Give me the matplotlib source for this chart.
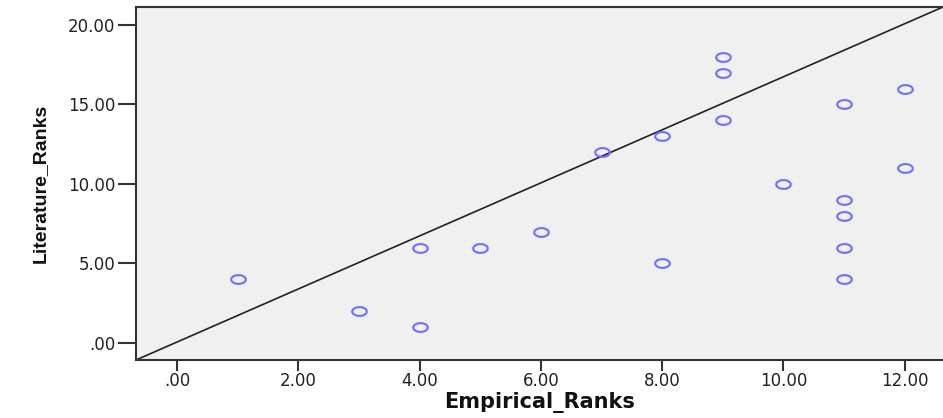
import numpy as np
import matplotlib
matplotlib.use("Agg")
import matplotlib.pyplot as plt
from matplotlib.path import Path

empirical_ranks = [1, 3, 4, 4, 5, 6, 7, 8, 8, 9, 9, 9, 10, 11, 11, 11, 11, 11, 12, 12]
literature_ranks = [4, 2, 1, 6, 6, 7, 12, 13, 5, 18, 17, 14, 10, 15, 9, 8, 6, 4, 16, 11]
x_ticks = [0, 2, 4, 6, 8, 10, 12]
y_ticks = [0, 5, 10, 15, 20]

def fmt(v):
    s = f"{v:.2f}"
    return s[1:] if s.startswith("0") else s

fig = plt.figure(figsize=(9.43, 4.18), dpi=100)
ax = fig.add_axes([0.1442, 0.1388, 0.8558, 0.8445])
ax.set_facecolor("#f0f0f0")

t = np.linspace(0, 2 * np.pi, 60)
ell = Path(np.column_stack([np.cos(t), 0.6 * np.sin(t)]))

ax.plot(empirical_ranks, literature_ranks, linestyle="none", marker=ell,
        markersize=10.5, markerfacecolor="none", markeredgecolor="#6f6fff",
        markeredgewidth=1.5, zorder=3)

ax.plot([0, 1], [0, 1], transform=ax.transAxes, color="#222222", lw=1.2, zorder=2)

ax.set_xlim(-0.676, 12.63)
ax.set_ylim(-1.07, 21.13)
ax.set_xticks(x_ticks)
ax.set_xticklabels([fmt(v) for v in x_ticks])
ax.set_yticks(y_ticks)
ax.set_yticklabels([fmt(v) for v in y_ticks])
ax.tick_params(axis="y", direction="out", length=13, width=1.5, color="#333333",
               labelsize=12, labelcolor="#222222", pad=2)
ax.tick_params(axis="x", direction="out", length=8, width=1.5, color="#333333",
               labelsize=12, labelcolor="#222222", pad=1)
for s in ["left", "bottom", "top"]:
    ax.spines[s].set_linewidth(1.5)
    ax.spines[s].set_color("#333333")
ax.spines["right"].set_visible(False)

ax.set_xlabel("Empirical_Ranks", fontsize=15, fontweight="bold", color="#111111", labelpad=1)
ax.set_ylabel("Literature_Ranks", fontsize=14, fontweight="bold", family="Liberation Sans",
              color="#111111", labelpad=14)

fig.savefig("out.png", dpi=100)
